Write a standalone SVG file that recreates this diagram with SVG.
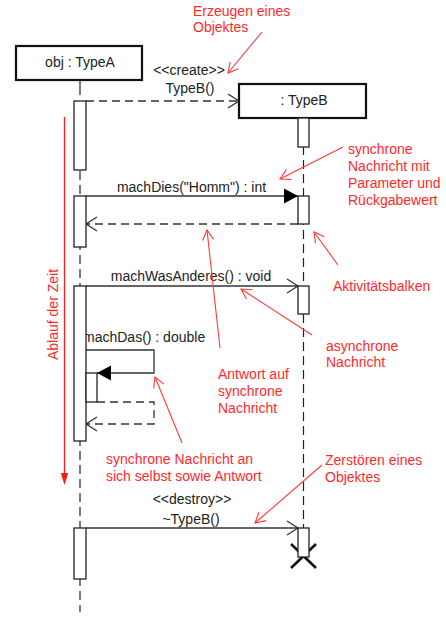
<svg xmlns="http://www.w3.org/2000/svg" width="446" height="630" viewBox="0 0 446 630">
<style>
.bg{fill:#fff}
.box{fill:#fff;stroke:#111;stroke-width:2.2}
.bar{fill:#fff;stroke:#222;stroke-width:1.3}
.life{stroke:#222;stroke-width:1.2;fill:none;stroke-dasharray:9,5}
.msg{stroke:#333;stroke-width:1.3;fill:none}
.dash{stroke-dasharray:8,5}
.t{font-family:"Liberation Sans",Arial,sans-serif;font-size:14px;fill:#222}
.m{text-anchor:middle}
.r{font-family:"Liberation Sans",Arial,sans-serif;font-size:14px;fill:#ff2a2a}
.rl{stroke:#ff3a3a;stroke-width:1.1;fill:none}
</style>
<defs>
<marker id="open" markerUnits="userSpaceOnUse" markerWidth="16" markerHeight="18" refX="12" refY="8" orient="auto" overflow="visible">
<path d="M1,1 L12,8 L1,15" fill="none" stroke="#333" stroke-width="1.3"/>
</marker>
<marker id="fill" markerUnits="userSpaceOnUse" markerWidth="16" markerHeight="18" refX="14" refY="8" orient="auto" overflow="visible">
<path d="M0,0.5 L14,8 L0,15.5 Z" fill="#000"/>
</marker>
<marker id="red" markerUnits="userSpaceOnUse" markerWidth="12" markerHeight="12" refX="10" refY="5.5" orient="auto" overflow="visible">
<path d="M0,0 L10,5.5 L0,11" fill="none" stroke="#ff3a3a" stroke-width="1.1"/>
</marker>
</defs>
<rect class="bg" x="0" y="0" width="446" height="630"/>

<g id="lifelines">
<line x1="80" y1="80" x2="80" y2="95" stroke="#222" stroke-width="1.2"/>
<line class="life" x1="80" y1="101" x2="80" y2="612"/>
<line class="life" x1="303.5" y1="118" x2="303.5" y2="528"/>
</g>

<g id="connectors">
<line class="msg dash" x1="86" y1="101" x2="239" y2="101" marker-end="url(#open)"/>
<line class="msg" x1="86" y1="196" x2="298" y2="196" marker-end="url(#fill)"/>
<line class="msg dash" x1="298" y1="224" x2="86" y2="224" marker-end="url(#open)"/>
<line class="msg" x1="86" y1="286" x2="298" y2="286" marker-end="url(#open)"/>
<polyline class="msg" points="86,350 154,350 154,373 97,373" marker-end="url(#fill)"/>
<polyline class="msg dash" points="97,402 154,402 154,424 86,424" marker-end="url(#open)"/>
<line class="msg" x1="86" y1="528" x2="298" y2="528" marker-end="url(#open)"/>
<path d="M291,544 L316,568 M316,544 L291,568" stroke="#111" stroke-width="2.6" fill="none"/>
</g>

<g id="labels">
<text class="t m" x="189" y="75">&lt;&lt;create&gt;&gt;</text>
<text class="t m" x="190" y="93">TypeB()</text>
<text class="t m" x="191.5" y="192">machDies("Homm") : int</text>
<text class="t m" x="191" y="281">machWasAnderes() : void</text>
<text class="t" x="83" y="342">machDas() : double</text>
<text class="t m" x="192" y="504">&lt;&lt;destroy&gt;&gt;</text>
<text class="t m" x="191" y="524">~TypeB()</text>
</g>

<g id="objA">
<rect class="box" x="16" y="46" width="126" height="34"/>
<text class="t m" x="80" y="67">obj : TypeA</text>
</g>
<g id="objB">
<rect class="box" x="239" y="84" width="127" height="34"/>
<text class="t m" x="304" y="105">: TypeB</text>
</g>

<g id="activationsA">
<rect class="bar" x="74" y="101" width="12" height="69"/>
<rect class="bar" x="74" y="196" width="12" height="51"/>
<rect class="bar" x="74" y="286" width="12" height="155"/>
<rect class="bar" x="86" y="373" width="11" height="29"/>
<rect class="bar" x="74" y="528" width="12" height="51"/>
</g>
<g id="activationsB">
<rect class="bar" x="298" y="118" width="11" height="29"/>
<rect class="bar" x="298" y="196" width="11" height="28"/>
<rect class="bar" x="298" y="286" width="11" height="28"/>
<rect class="bar" x="298" y="528" width="11" height="29"/>
</g>

<g id="time">
<line x1="64.5" y1="117" x2="64.5" y2="474" stroke="#ff1a1a" stroke-width="1.3"/>
<path d="M60.8,473 L68.2,473 L64.5,485 Z" fill="#ff1a1a"/>
<text class="r m" transform="translate(58,314.5) rotate(-90)">Ablauf der Zeit</text>
</g>

<g id="annotations">
<text class="r" x="193" y="16">Erzeugen eines</text>
<text class="r" x="193" y="32">Objektes</text>
<line class="rl" x1="262" y1="32" x2="228" y2="73" marker-end="url(#red)"/>
<text class="r" x="348" y="154">synchrone</text>
<text class="r" x="348" y="171">Nachricht mit</text>
<text class="r" x="348" y="188">Parameter und</text>
<text class="r" x="348" y="205">Rückgabewert</text>
<line class="rl" x1="343" y1="147" x2="280" y2="179" marker-end="url(#red)"/>
<line class="rl" x1="338" y1="265" x2="314" y2="232" marker-end="url(#red)"/>
<text class="r" x="333" y="291">Aktivitätsbalken</text>
<line class="rl" x1="220" y1="348" x2="207" y2="230" marker-end="url(#red)"/>
<line class="rl" x1="312" y1="335" x2="241" y2="289" marker-end="url(#red)"/>
<text class="r" x="326" y="351">asynchrone</text>
<text class="r" x="326" y="367">Nachricht</text>
<text class="r" x="218" y="379">Antwort auf</text>
<text class="r" x="218" y="396">synchrone</text>
<text class="r" x="218" y="413">Nachricht</text>
<line class="rl" x1="182" y1="443" x2="155" y2="377" marker-end="url(#red)"/>
<text class="r" x="106" y="464">synchrone Nachricht an</text>
<text class="r" x="106" y="481">sich selbst sowie Antwort</text>
<text class="r" x="325" y="465">Zerstören eines</text>
<text class="r" x="325" y="482">Objektes</text>
<line class="rl" x1="322" y1="465" x2="255" y2="523" marker-end="url(#red)"/>
</g>
</svg>
